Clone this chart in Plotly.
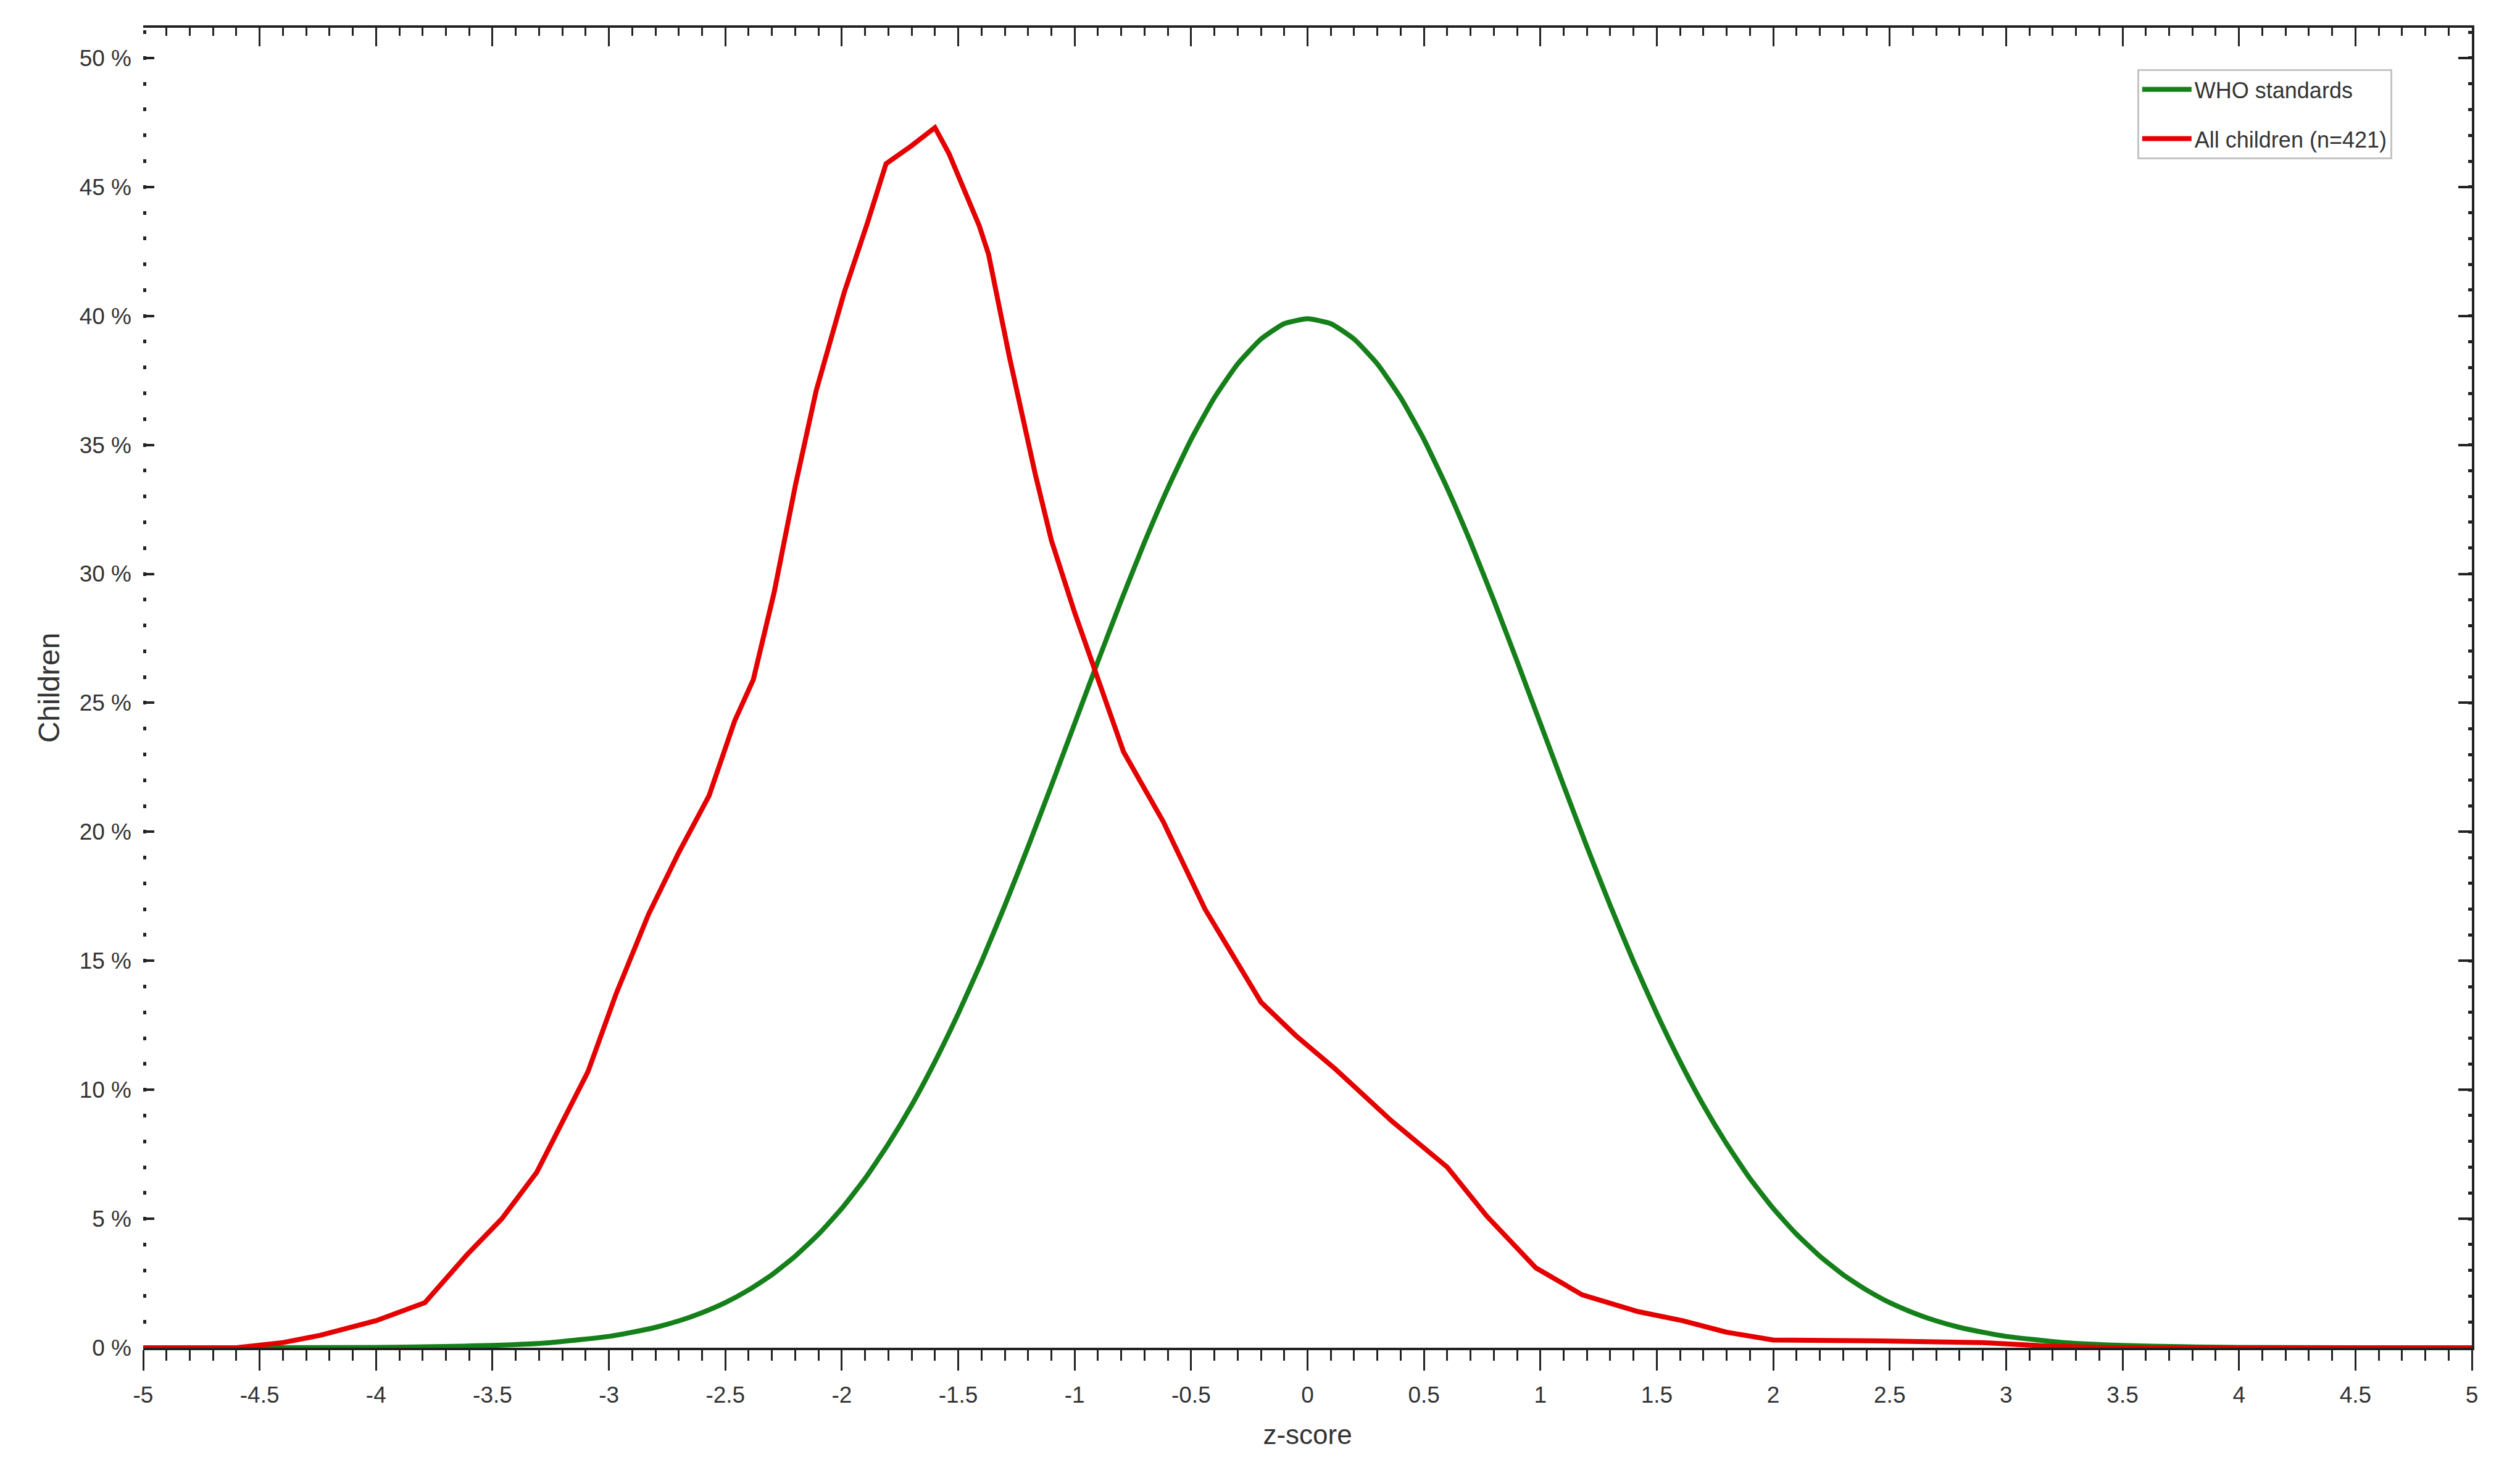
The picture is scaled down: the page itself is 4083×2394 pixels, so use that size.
import plotly.graph_objects as go

# ---- data ----
z_who = [-5, -4.5, -4, -3.75, -3.5, -3.25,
         -3.0, -2.9, -2.8, -2.7, -2.6, -2.5, -2.4, -2.3, -2.2, -2.1,
         -2.0, -1.9, -1.8, -1.7, -1.6, -1.5, -1.4, -1.3, -1.2, -1.1,
         -1.0, -0.9, -0.8, -0.7, -0.6, -0.5, -0.4, -0.3, -0.2, -0.1,
         0.0, 0.1, 0.2, 0.3, 0.4, 0.5, 0.6, 0.7, 0.8, 0.9,
         1.0, 1.1, 1.2, 1.3, 1.4, 1.5, 1.6, 1.7, 1.8, 1.9,
         2.0, 2.1, 2.2, 2.3, 2.4, 2.5, 2.6, 2.7, 2.8, 2.9,
         3.0, 3.25, 3.5, 3.75, 4, 4.5, 5]
who_pct = [0.0, 0.0, 0.01, 0.04, 0.09, 0.2,
           0.44, 0.6, 0.79, 1.04, 1.36, 1.75, 2.24, 2.83, 3.55, 4.4,
           5.4, 6.56, 7.9, 9.4, 11.09, 12.95, 14.97, 17.14, 19.42, 21.79,
           24.2, 26.61, 28.97, 31.23, 33.32, 35.21, 36.83, 38.14, 39.1, 39.7,
           39.89, 39.7, 39.1, 38.14, 36.83, 35.21, 33.32, 31.23, 28.97, 26.61,
           24.2, 21.79, 19.42, 17.14, 14.97, 12.95, 11.09, 9.4, 7.9, 6.56,
           5.4, 4.4, 3.55, 2.83, 2.24, 1.75, 1.36, 1.04, 0.79, 0.6,
           0.44, 0.2, 0.09, 0.04, 0.01, 0.0, 0.0]

z_children = [-5, -4.6, -4.4, -4.24, -4.0, -3.79, -3.61, -3.46, -3.31, -3.2, -3.09, -2.97,
              -2.83, -2.7, -2.57, -2.46, -2.38, -2.29, -2.2, -2.11, -1.99, -1.89, -1.81,
              -1.7, -1.6, -1.54, -1.41, -1.37, -1.28, -1.17, -1.1, -1.0, -0.9, -0.79,
              -0.62, -0.44, -0.2, -0.05, 0.12, 0.36, 0.6, 0.77, 0.98, 1.18, 1.42, 1.61,
              1.8, 2.0, 2.4, 2.7, 2.9, 3.17, 3.45, 5.0]
children_pct = [0, 0, 0.2, 0.48, 1.05, 1.75, 3.6, 5.0, 6.8, 8.7, 10.7, 13.7,
                16.8, 19.2, 21.4, 24.3, 25.9, 29.3, 33.4, 37.1, 40.9, 43.6, 45.9,
                46.6, 47.3, 46.3, 43.5, 42.4, 38.4, 33.9, 31.3, 28.5, 25.9, 23.1,
                20.4, 17.0, 13.4, 12.1, 10.8, 8.8, 7.0, 5.1, 3.1, 2.05, 1.4, 1.05,
                0.6, 0.3, 0.27, 0.24, 0.2, 0.07, 0, 0]

x_tickvals = [-5, -4.5, -4, -3.5, -3, -2.5, -2, -1.5, -1, -0.5, 0, 0.5, 1, 1.5, 2, 2.5, 3, 3.5, 4, 4.5, 5]
x_ticktext = ["-5", "-4.5", "-4", "-3.5", "-3", "-2.5", "-2", "-1.5", "-1", "-0.5", "0",
              "0.5", "1", "1.5", "2", "2.5", "3", "3.5", "4", "4.5", "5"]
y_tickvals = [0, 5, 10, 15, 20, 25, 30, 35, 40, 45, 50]
y_ticktext = ["0 %", "5 %", "10 %", "15 %", "20 %", "25 %", "30 %", "35 %", "40 %", "45 %", "50 %"]

GREEN = "#15801a"
RED = "#e50000"
FONT = "Liberation Sans, Arial, sans-serif"
TXT = "#333333"

fig = go.Figure()
fig.add_trace(go.Scatter(x=z_who, y=who_pct, mode="lines", name="WHO standards",
                         line=dict(color=GREEN, width=8, shape="spline", smoothing=0.5),
                         legendgroup="a"))
fig.add_trace(go.Scatter(x=z_children, y=children_pct, mode="lines", name="All children (n=421)",
                         line=dict(color=RED, width=8), legendgroup="b"))
# carrier for the mirrored frame axes (draws nothing)
fig.add_trace(go.Scatter(x=z_who, y=who_pct, mode="none", xaxis="x2", yaxis="y2",
                         showlegend=False, hoverinfo="skip"))

XR = [-5, 5]
YR = [0, 51.17]

fig.update_layout(
    width=4083, height=2394,
    margin=dict(l=224, r=86, t=37, b=219),
    paper_bgcolor="white", plot_bgcolor="white",
    font=dict(family=FONT, color=TXT, size=37),
    showlegend=True,
    legend=dict(x=0.8563, y=0.9687, xanchor="left", yanchor="top",
                bgcolor="white", bordercolor="#c4c4c4", borderwidth=3,
                font=dict(size=36, color=TXT, family=FONT),
                tracegroupgap=30, traceorder="grouped", itemwidth=80),
    xaxis=dict(range=XR, showgrid=False, zeroline=False,
               showline=True, linecolor="#222222", linewidth=4, layer="below traces",
               tickmode="array", tickvals=x_tickvals, ticktext=x_ticktext,
               ticks="outside", ticklen=33, tickwidth=3, tickcolor="#222222",
               tickfont=dict(size=37, color=TXT), ticklabelstandoff=8,
               minor=dict(tickmode="linear", tick0=-5, dtick=0.1, ticks="outside",
                          ticklen=17, tickwidth=3, tickcolor="#222222"),
               title=dict(text="z-score", font=dict(size=44, color=TXT), standoff=30)),
    yaxis=dict(range=YR, showgrid=False, zeroline=False, showline=False,
               tickmode="array", tickvals=y_tickvals, ticktext=y_ticktext,
               ticks="inside", ticklen=18, tickwidth=4, tickcolor="#222222",
               tickfont=dict(size=37, color=TXT), ticklabelstandoff=18,
               minor=dict(tickmode="linear", tick0=0, dtick=1, ticks="inside",
                          ticklen=5, tickwidth=6, tickcolor="#222222"),
               title=dict(text="Children", font=dict(size=48, color=TXT), standoff=16)),
    xaxis2=dict(range=XR, overlaying="x", side="top", anchor="y2", matches="x",
                showgrid=False, zeroline=False, showline=True, linecolor="#222222", linewidth=4,
                tickmode="array", tickvals=x_tickvals, showticklabels=False,
                ticks="inside", ticklen=30, tickwidth=3, tickcolor="#222222",
                minor=dict(tickmode="linear", tick0=-5, dtick=0.1, ticks="inside",
                           ticklen=13, tickwidth=3, tickcolor="#222222")),
    yaxis2=dict(range=YR, overlaying="y", side="right", anchor="x2", matches="y",
                showgrid=False, zeroline=False, showline=True, linecolor="#222222", linewidth=4,
                tickmode="array", tickvals=y_tickvals, showticklabels=False,
                ticks="inside", ticklen=22, tickwidth=4, tickcolor="#222222",
                minor=dict(tickmode="linear", tick0=0, dtick=1, ticks="inside",
                           ticklen=6, tickwidth=5, tickcolor="#222222")),
)

fig.write_html("out.html")
